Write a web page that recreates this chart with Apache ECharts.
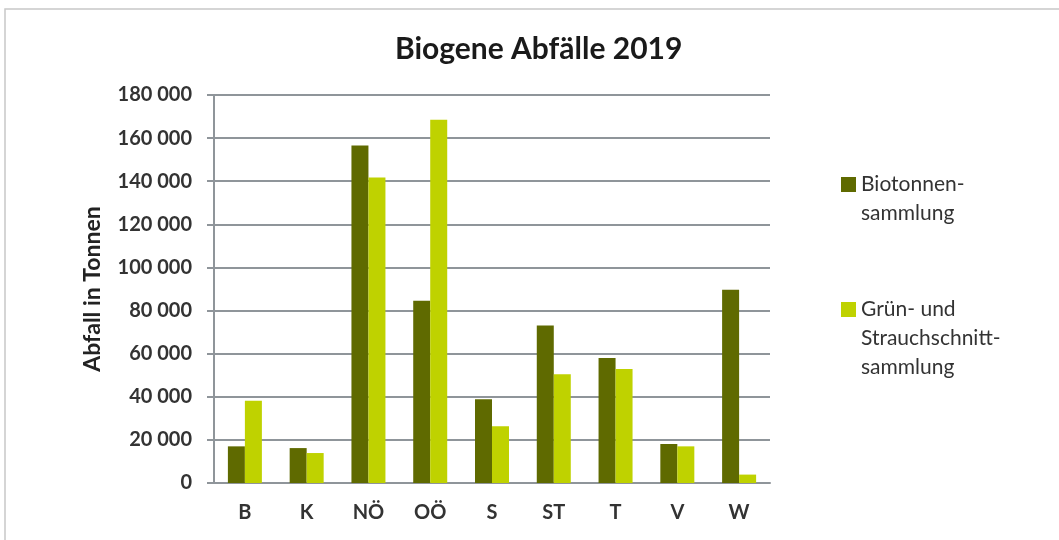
<!DOCTYPE html>
<html>
<head>
<meta charset="utf-8">
<script src="https://cdn.jsdelivr.net/npm/echarts@6/dist/echarts.min.js"></script>
<style>
html, body { margin: 0; padding: 0; background: #fff; }
#main { width: 1059px; height: 540px; }
</style>
</head>
<body>
<div id="main"></div>
<script>
var regionen = ['B', 'K', 'NÖ', 'OÖ', 'S', 'ST', 'T', 'V', 'W'];
var biotonne = [17000, 16200, 156600, 84500, 38900, 73100, 58000, 18100, 89600];
var gruenschnitt = [38200, 13900, 141700, 168500, 26300, 50500, 52900, 17000, 3900];
var serienNamen = ['Biotonnen-\nsammlung', 'Grün- und\nStrauchschnitt-\nsammlung'];

var chart = echarts.init(document.getElementById('main'));

function tausender(v) {
    return String(v).replace(/\B(?=(\d{3})+(?!\d))/g, ' ');
}

// Leerzeilen oben, damit das Symbol neben der ersten Zeile steht
function legendeText(name) {
    var n = name.split('\n').length;
    return new Array(n).join('\n') + name;
}

var option = {
    animation: false,
    title: {
        text: 'Biogene Abfälle 2019',
        left: 390,
        top: 29,
        textStyle: { fontFamily: 'Lato', fontWeight: 'bold', fontSize: 30, color: '#1a1a1a' }
    },
    graphic: [{
        type: 'rect',
        shape: { x: 5, y: 9, width: 1070, height: 560 },
        style: { fill: 'none', stroke: '#c8c8c8', lineWidth: 1.5 }
    }],
    legend: {
        orient: 'vertical',
        left: 841,
        top: 141,
        padding: 0,
        itemWidth: 15,
        itemHeight: 15,
        itemGap: 9,
        icon: 'rect',
        data: serienNamen,
        formatter: legendeText,
        textStyle: { fontFamily: 'Lato', fontSize: 21, color: '#333', lineHeight: 29 }
    },
    grid: { left: 214, right: 289, top: 95, bottom: 57 },
    xAxis: {
        type: 'category',
        data: regionen,
        axisLine: { lineStyle: { color: '#8f959a', width: 2 } },
        axisTick: { show: false },
        axisLabel: { fontFamily: 'Lato', fontWeight: 'bold', fontSize: 20, color: '#333', margin: 20 }
    },
    yAxis: {
        type: 'value',
        min: 0,
        max: 180000,
        interval: 20000,
        name: 'Abfall in Tonnen',
        nameLocation: 'middle',
        nameGap: 110,
        nameTextStyle: { fontFamily: 'Lato', fontWeight: 'bold', fontSize: 23, color: '#222' },
        axisLine: { show: true, lineStyle: { color: '#8f959a', width: 2 } },
        axisTick: { show: true, length: 7, inside: false, lineStyle: { color: '#8f959a', width: 2 } },
        axisLabel: { fontFamily: 'Lato', fontWeight: 'bold', fontSize: 20, color: '#333', margin: 22, formatter: tausender },
        splitLine: { lineStyle: { color: '#8f959a', width: 2 } }
    },
    series: [{
        name: serienNamen[0],
        type: 'bar',
        data: biotonne,
        barWidth: 17,
        barGap: '0%',
        itemStyle: { color: '#5f6a00' }
    }, {
        name: serienNamen[1],
        type: 'bar',
        data: gruenschnitt,
        barWidth: 17,
        itemStyle: { color: '#bfd200' }
    }]
};

chart.setOption(option);
</script>
</body>
</html>
